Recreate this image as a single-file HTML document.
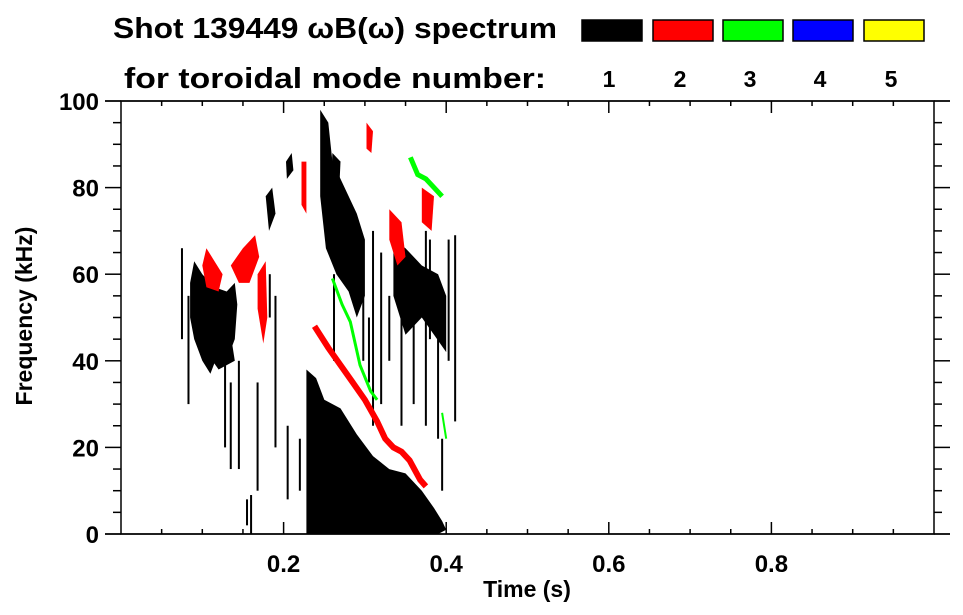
<!DOCTYPE html>
<html><head><meta charset="utf-8"><style>
html,body{margin:0;padding:0;background:#fff;}
svg{display:block;font-family:"Liberation Sans",sans-serif;font-weight:bold;}
</style></head><body>
<svg id="chart" width="963" height="615" viewBox="0 0 963 615" xmlns="http://www.w3.org/2000/svg">
<text x="113" y="38" font-size="29" textLength="444" lengthAdjust="spacingAndGlyphs">Shot 139449 ωB(ω) spectrum</text>
<text x="124" y="88" font-size="29" textLength="422" lengthAdjust="spacingAndGlyphs">for toroidal mode number:</text>
<g id="legend"></g>
<g id="marks"></g>
<g id="axes"></g>
<text x="527" y="597" font-size="23" text-anchor="middle">Time (s)</text>
<text transform="translate(32,316) rotate(-90)" font-size="23" text-anchor="middle">Frequency (kHz)</text>
</svg>
<script>
const modeColors = ['#000000','#ff0000','#00ff00','#0000ff','#ffff00'];
const modeLabels = ['1','2','3','4','5'];
const xTickLabels = ['0.2','0.4','0.6','0.8'];
const xTickValues = [0.2,0.4,0.6,0.8];
const yTickValues = [0,20,40,60,80,100];
const blackBlobs = [
 [[.085,58],[.09,63],[.10,60],[.115,57],[.13,56],[.14,58],[.143,53],[.14,45],[.13,40],[.12,42],[.11,37],[.10,40],[.09,45],[.085,50]],
 [[.228,38],[.24,36],[.25,31],[.27,29],[.29,23],[.31,18],[.33,15],[.35,14],[.37,10],[.385,6],[.395,3],[.40,1],[.39,0],[.228,0]],
 [[.245,98],[.255,95],[.26,86],[.275,80],[.29,74],[.30,68],[.30,55],[.29,50],[.28,56],[.265,60],[.252,66],[.245,78]],
 [[.335,68],[.35,66],[.37,62],[.39,60],[.40,55],[.40,42],[.385,46],[.37,50],[.35,46],[.335,55]],
 [[.26,88],[.27,86],[.268,78],[.258,80]],
 [[.203,86],[.21,88],[.212,84],[.204,82]],
 [[.178,78],[.186,80],[.19,74],[.182,70]],
 [[.10,50],[.13,52],[.14,40],[.12,38],[.105,42]]
];
const blackStrips = [
 [.411,26,69],[.145,15,40],[.168,10,35],[.19,20,55],[.205,8,25],[.16,0,9],[.155,2,8],[.22,10,22],
 [.31,25,70],[.32,30,65],[.345,25,60],[.36,30,58],[.375,25,70],[.39,22,45],[.183,50,60],
 [.075,45,66],[.083,30,55],[.128,20,40],[.135,15,35],[.298,40,60],[.305,35,50],[.33,40,55],
 [.395,10,22],[.38,45,68],[.255,0,30],[.262,40,60],[.278,0,20],[.355,48,64],[.403,40,68]
];
const redBlobs = [
 [[.10,62],[.105,66],[.115,63],[.125,60],[.12,56],[.105,57]],
 [[.135,62],[.15,66],[.165,69],[.17,64],[.158,58],[.145,58]],
 [[.168,60],[.178,63],[.18,50],[.175,44],[.168,52]],
 [[.33,75],[.345,72],[.35,64],[.34,62],[.33,68]],
 [[.37,80],[.385,78],[.382,70],[.37,72]],
 [[.222,86],[.228,86],[.228,74],[.222,76]],
 [[.302,95],[.31,93],[.308,88],[.302,89]]
];
const redLine = [[.238,48],[.255,43],[.27,39],[.285,35],[.30,31],[.315,26],[.325,22],[.335,20],[.345,19],[.355,17],[.368,12.5],[.375,11]];
const greenLine = [[.26,59],[.272,53],[.282,49],[.294,39],[.307,33],[.315,31]];
const greenUpper = [[.356,87],[.365,83],[.375,82],[.385,80],[.395,78]];
const greenLower = [[.395,28],[.40,22]];

const NS='http://www.w3.org/2000/svg';
const X0=121,X1=934,Y0=534,Y1=101;
const xs=t=>X0+(X1-X0)*t;
const ys=f=>Y0-(Y0-Y1)*f/100;
function mk(tag,attrs,parent){const e=document.createElementNS(NS,tag);for(const k in attrs)e.setAttribute(k,attrs[k]);parent.appendChild(e);return e;}
const marks=document.getElementById('marks'),axes=document.getElementById('axes'),legend=document.getElementById('legend');
const pts=a=>a.map(p=>xs(p[0]).toFixed(1)+','+ys(p[1]).toFixed(1)).join(' ');

blackBlobs.forEach(b=>{const e=mk('polygon',{points:pts(b),fill:modeColors[0]},marks);

});
blackStrips.forEach(s=>{const e=mk('rect',{x:xs(s[0])-1,y:ys(s[2]),width:2,height:ys(s[1])-ys(s[2]),fill:modeColors[0]},marks);

});
redBlobs.forEach(b=>{const e=mk('polygon',{points:pts(b),fill:modeColors[1]},marks);

});
[[redLine,modeColors[1],6,'mode2-line'],[greenLine,modeColors[2],3,'mode3-line'],[greenUpper,modeColors[2],5,'mode3-upper'],[greenLower,modeColors[2],2,'mode3-lower']].forEach(l=>{
const e=mk('polyline',{points:pts(l[0]),fill:'none',stroke:l[1],'stroke-width':l[2]},marks);

});

const frame=mk('rect',{x:X0,y:Y1,width:X1-X0,height:Y0-Y1,fill:'none',stroke:'#000','stroke-width':1.5},axes);


for(let i=1;i<20;i++){const t=i*0.05,major=i%4===0,x=xs(t),L=major?12:5;
mk('line',{x1:x,x2:x,y1:Y0,y2:Y0-L,stroke:'#000','stroke-width':1.5},axes);
mk('line',{x1:x,x2:x,y1:Y1,y2:Y1+L,stroke:'#000','stroke-width':1.5},axes);}
mk('line',{x1:105,x2:950,y1:Y0,y2:Y0,stroke:'#000','stroke-width':1.5},axes);
mk('line',{x1:105,x2:950,y1:Y1,y2:Y1,stroke:'#000','stroke-width':1.5},axes);
for(let i=0;i<=20;i++){const f=i*5,major=i%4===0,y=ys(f),L=major?16:8;
mk('line',{x1:X0,x2:X0-L,y1:y,y2:y,stroke:'#000','stroke-width':1.5},axes);
mk('line',{x1:X1,x2:X1+L,y1:y,y2:y,stroke:'#000','stroke-width':1.5},axes);}
xTickValues.forEach((v,i)=>{const e=mk('text',{x:xs(v),y:572,'font-size':24,'text-anchor':'middle'},axes);e.textContent=xTickLabels[i];

});
yTickValues.forEach(v=>{const e=mk('text',{x:99,y:ys(v)+9,'font-size':24,'text-anchor':'end'},axes);e.textContent=String(v);

});

const lx=[582,653,723,793,864];
modeColors.forEach((c,i)=>{const r=mk('rect',{x:lx[i],y:20,width:60,height:21,fill:c,stroke:'#000','stroke-width':1.5},legend);


const t=mk('text',{x:lx[i]+27,y:87,'font-size':23,'text-anchor':'middle'},legend);t.textContent=modeLabels[i];

});
</script>
</body></html>
